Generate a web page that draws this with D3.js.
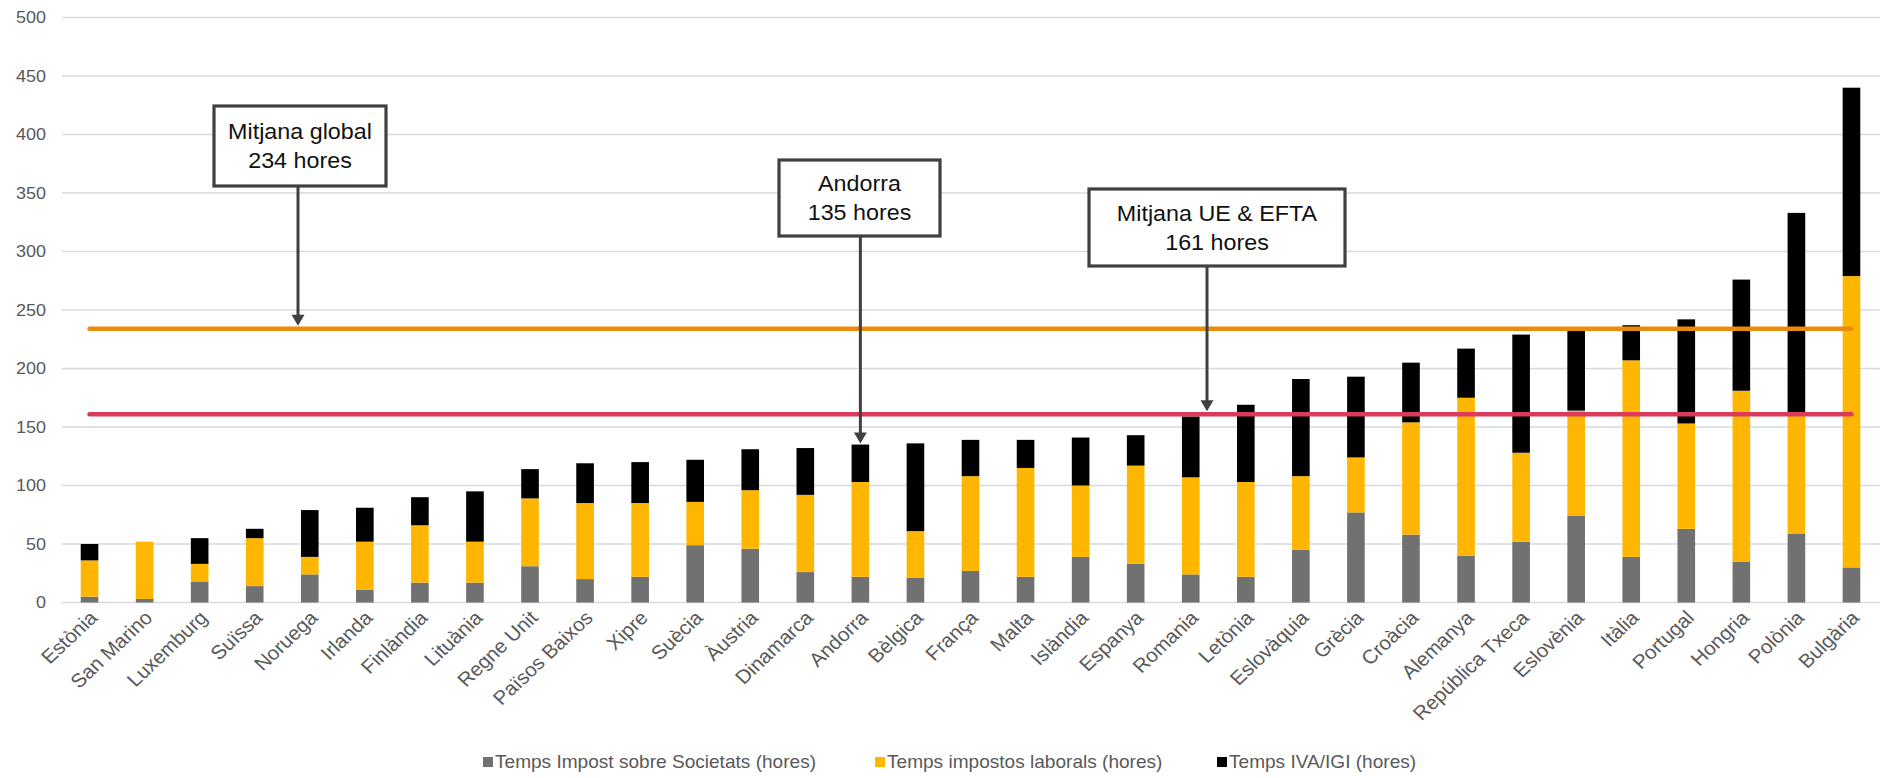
<!DOCTYPE html>
<html><head><meta charset="utf-8">
<script src="https://cdn.jsdelivr.net/npm/d3@7"></script>
<style>html,body{margin:0;padding:0;background:#fff;} svg{display:block;font-family:"Liberation Sans",Arial,sans-serif;}</style>
</head><body><svg id="c" width="1881" height="778"></svg>
<script>
const countries = ["Estònia","San Marino","Luxemburg","Suïssa","Noruega","Irlanda","Finlàndia","Lituània","Regne Unit","Països Baixos","Xipre","Suècia","Àustria","Dinamarca","Andorra","Bèlgica","França","Malta","Islàndia","Espanya","Romania","Letònia","Eslovàquia","Grècia","Croàcia","Alemanya","República Txeca","Eslovènia","Itàlia","Portugal","Hongria","Polònia","Bulgària"];
const societats = [5,3,18,14,24,11,17,17,31,20,22,49,46,26,22,21,27,22,39,33,24,22,45,77,58,40,52,74,39,63,35,59,30];
const laborals  = [31,49,15,41,15,41,49,35,58,65,63,37,50,66,81,40,81,93,61,84,83,81,63,47,96,135,76,90,168,90,146,101,249];
const ivaIgi    = [14,0,22,8,40,29,24,43,25,34,35,36,35,40,32,75,31,24,41,26,52,66,83,69,51,42,101,68,30,89,95,173,161];
const seriesNames = ["Temps Impost sobre Societats (hores)","Temps impostos laborals (hores)","Temps IVA/IGI (hores)"];
const yTicks = [0,50,100,150,200,250,300,350,400,450,500];
const refNames = ["Mitjana global","Mitjana UE & EFTA"];
const refValues = [234,161];
const annotTitles = ["Mitjana global","Andorra","Mitjana UE & EFTA"];
const annotValues = [234,135,161];

// layout / style
const colors = ["#717171","#FFB600","#000000"];
const refColors = ["#EB8A0C","#DC3A5B"];
const SX = 1.06; // slight horizontal stretch of text, as in the reference
const svg = d3.select("#c");
const x = d3.scaleBand().domain(countries).range([62,1879]).paddingInner(0.68).paddingOuter(0.34);
const y = d3.scaleLinear().domain([0,500]).range([602.5,17.5]);

// grid
svg.append("g").selectAll("line").data(yTicks).join("line")
  .attr("x1",62).attr("x2",1880).attr("y1",d=>y(d)).attr("y2",d=>y(d))
  .attr("stroke","#d9d9d9").attr("stroke-width",1.4);
// y labels
svg.append("g").selectAll("text").data(yTicks).join("text")
  .attr("transform",d=>`translate(46,${y(d)}) scale(${SX},1)`)
  .attr("text-anchor","end").attr("dy","0.35em")
  .attr("font-size",17).attr("fill","#595959").text(d=>d);

// stacked bars
const rows = countries.map((c,i)=>({c, s:societats[i], l:laborals[i], v:ivaIgi[i]}));
const stack = d3.stack().keys(["s","l","v"])(rows);
svg.append("g").selectAll("g").data(stack).join("g").attr("fill",(d,i)=>colors[i])
  .selectAll("rect").data(d=>d).join("rect")
  .attr("x",d=>x(d.data.c)).attr("width",x.bandwidth())
  .attr("y",d=>y(d[1])).attr("height",d=>Math.max(0,y(d[0])-y(d[1])));

// x labels
svg.append("g").selectAll("text").data(countries).join("text")
  .attr("transform",d=>`translate(${x(d)+x.bandwidth()/2+9},619) scale(${SX},1) rotate(-45)`)
  .attr("text-anchor","end").attr("font-size",19.5).attr("fill","#595959").text(d=>d);

// reference lines
const xFirst = x(countries[0])+x.bandwidth()/2, xLast = x(countries[countries.length-1])+x.bandwidth()/2;
svg.append("g").selectAll("line").data(refValues).join("line")
  .attr("x1",xFirst).attr("x2",xLast).attr("y1",d=>y(d)).attr("y2",d=>y(d))
  .attr("stroke",(d,i)=>refColors[i]).attr("stroke-width",4.5).attr("stroke-linecap","round");

// annotations
const boxes = [
  {cx:300, top:106, w:172, h:80, ax:298, gap:3},
  {cx:859.5, top:160, w:161, h:76, ax:x("Andorra")+x.bandwidth()/2, gap:1},
  {cx:1217, top:189, w:256, h:77, ax:1207, gap:3}
];
const ag = svg.append("g");
boxes.forEach((b,i)=>{
  const tipY = y(annotValues[i]) - b.gap;
  ag.append("line").attr("x1",b.ax).attr("x2",b.ax).attr("y1",b.top+b.h).attr("y2",tipY-8)
    .attr("stroke","#404040").attr("stroke-width",3);
  ag.append("path").attr("d",`M${b.ax},${tipY} L${b.ax-6.5},${tipY-11} L${b.ax+6.5},${tipY-11} Z`).attr("fill","#404040");
  ag.append("rect").attr("x",b.cx-b.w/2).attr("y",b.top).attr("width",b.w).attr("height",b.h)
    .attr("fill","#fff").attr("stroke","#404040").attr("stroke-width",3.2);
  const cy = b.top + b.h/2;
  [annotTitles[i], annotValues[i]+" hores"].forEach((t,k)=>{
    ag.append("text").attr("transform",`translate(${b.cx},${cy + (k===0?-14.5:14.5)}) scale(${SX},1)`)
      .attr("text-anchor","middle").attr("dy","0.35em").attr("font-size",22).attr("fill","#111").text(t);
  });
});

// legend
const legX = [483,875,1217];
const lg = svg.append("g");
seriesNames.forEach((n,i)=>{
  lg.append("rect").attr("x",legX[i]).attr("y",757).attr("width",10).attr("height",10).attr("fill",colors[i]);
  lg.append("text").attr("transform",`translate(${legX[i]+12},762) scale(${SX},1)`)
    .attr("dy","0.35em").attr("font-size",18).attr("fill","#595959").text(n);
});
</script></body></html>
